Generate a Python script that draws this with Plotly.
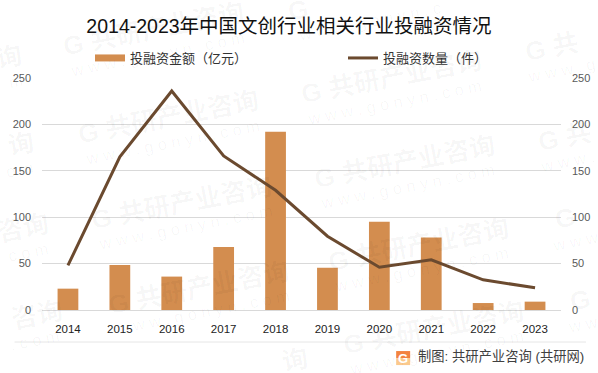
import math
import plotly.graph_objects as go

years = ["2014","2015","2016","2017","2018","2019","2020","2021","2022","2023"]
amount = [23,48.5,36,68,192,45.5,95,78,7.5,9]
count = [48,165,236,166,129,79.5,46,54,32.5,24]
ticks = [0,50,100,150,200,250]
title = "2014-2023年中国文创行业相关行业投融资情况"
source = "制图: 共研产业咨询 (共研网)"
amount_name = "投融资金额（亿元）"
count_name = "投融资数量（件）"
CJK = "Liberation Sans, Noto Sans CJK SC, sans-serif"
W, H = 598, 373
L, R, T, B = 41.5, 561, 78.3, 310

def px(x): return (x - L) / (R - L)
def py(y): return 1 - (y - T) / (B - T)

# watermark tiles: G-glyph centre in picture pixels, then the part of the
# brand text and of the web address that falls inside the picture
WM_MAIN = "G 共研产业咨询"
WM_SUB = "\u00a0".join("www.gonyn.com")
ANG = 11
C, S = math.cos(math.radians(ANG)), math.sin(math.radians(ANG))
marks = [
    (-149,88,  (7,8), (23,25)),
    (-137,175, (7,8), (21,25)),
    (-122,256, (6,8), (19,25)),
    (-108,343, (6,8), (17,25)),
    (75,45,  (0,8), (0,25)),
    (90,133, (0,8), (0,25)),
    (103,218,(0,8), (0,25)),
    (120,303,(0,8), (0,25)),
    (138,390,(7,8), None),
    (298,10, (0,1), (0,22)),
    (313,93, (0,8), (0,25)),
    (326,177,(0,8), (0,25)),
    (340,260,(0,8), (0,25)),
    (355,343,(0,8), (0,25)),
    (537,50, (0,3), (0,9)),
    (550,140,(0,3), (0,7)),
    (565,218,(0,1), (0,5)),
    (580,300,(0,1), (0,3)),
]
WM = "rgba(0,0,0,0.035)"
# distance along the tilted text from the G centre to each glyph centre of WM_MAIN
main_pos = [0, 15, 30, 56, 82, 108, 134, 160]
SUB_STEP = 7.3

fig = go.Figure()
fig.add_trace(go.Bar(x=years, y=amount, name=amount_name, showlegend=False,
                     marker=dict(color="#D38D4F", line_width=0), yaxis="y"))
fig.add_trace(go.Scatter(x=years, y=[None]*len(years), name=amount_name, mode="lines",
                         line=dict(color="#D38D4F", width=7), yaxis="y"))
fig.add_trace(go.Scatter(x=years, y=count, name=count_name, mode="lines",
                         line=dict(color="#6B4A2F", width=3), yaxis="y2"))

ann = []
for (gx, gy, mrange, srange) in marks:
    a, b = mrange
    along = (main_pos[a] + main_pos[b-1]) / 2
    text = WM_MAIN[a:b].strip()
    ann.append(dict(x=px(gx + along*C), y=py(gy - along*S), xref="paper", yref="paper", text="<b>%s</b>" % text,
                    showarrow=False, xanchor="center", yanchor="middle", textangle=-ANG,
                    font=dict(size=26, color=WM, family=CJK)))
    if srange:
        a, b = srange
        mid = (a + b) / 2 * SUB_STEP - 8
        ann.append(dict(x=px(gx + mid*C), y=py(gy + 25 - mid*S), xref="paper", yref="paper", text=WM_SUB[a:b].strip("\u00a0"),
                        showarrow=False, xanchor="center", yanchor="middle", textangle=-ANG,
                        font=dict(size=16.5, color=WM, family=CJK)))

shapes = [
    dict(type="line", xref="paper", yref="paper", x0=px(14), x1=px(586), y0=py(342), y1=py(342), line=dict(color="#E6E6E6", width=1)),
    dict(type="rect", xref="paper", yref="paper", x0=px(396), x1=px(410), y0=py(358), y1=py(351), fillcolor="#F3833F", line_width=0),
    dict(type="rect", xref="paper", yref="paper", x0=px(396), x1=px(410), y0=py(365), y1=py(358), fillcolor="#FBC98C", line_width=0),
]
ann.append(dict(x=px(586.5), y=py(356.5), xref="paper", yref="paper", xanchor="right", yanchor="middle", showarrow=False,
                text=source, font=dict(size=13.3, color="#404040", family=CJK)))
ann.append(dict(x=px(403), y=py(358), xref="paper", yref="paper", xanchor="center", yanchor="middle", showarrow=False,
                text="<b>G</b>", font=dict(size=13, color="#FFFFFF", family=CJK)))

fig.update_layout(
    width=W, height=H,
    margin=dict(l=L, r=W-R, t=T, b=H-B, autoexpand=False, pad=0),
    paper_bgcolor="white", plot_bgcolor="rgba(0,0,0,0)",
    title=dict(text=title, x=289/W, xref="container", xanchor="center", y=1-26/H, yanchor="middle",
               font=dict(size=19.5, color="#111111", family=CJK)),
    bargap=0.6,
    showlegend=True,
    legend=dict(orientation="h", xref="container", yref="container", x=90/W, xanchor="left", y=1-58/H, yanchor="middle",
                font=dict(size=13, color="#333333", family=CJK), itemwidth=30, entrywidth=208, entrywidthmode="pixels",
                traceorder="normal", bgcolor="rgba(0,0,0,0)"),
    xaxis=dict(type="category", showgrid=False, showline=True, linecolor="#D9D9D9", linewidth=1, ticks="",
               tickfont=dict(size=11.5, color="#222222", family=CJK), ticklabelstandoff=8),
    yaxis=dict(range=[0,250], tickvals=ticks, showgrid=True, gridcolor="#D9D9D9", gridwidth=1, zeroline=False,
               tickfont=dict(size=11, color="#595959", family=CJK), ticklabelstandoff=10),
    yaxis2=dict(range=[0,250], tickvals=ticks, overlaying="y", side="right", showgrid=False, zeroline=False,
                tickfont=dict(size=11, color="#595959", family=CJK), ticklabelstandoff=10),
    annotations=ann, shapes=shapes,
)
fig.write_html("out.html", config=dict(displayModeBar=False),
               post_script="document.body.style.margin='0';document.documentElement.style.overflow='hidden';")
